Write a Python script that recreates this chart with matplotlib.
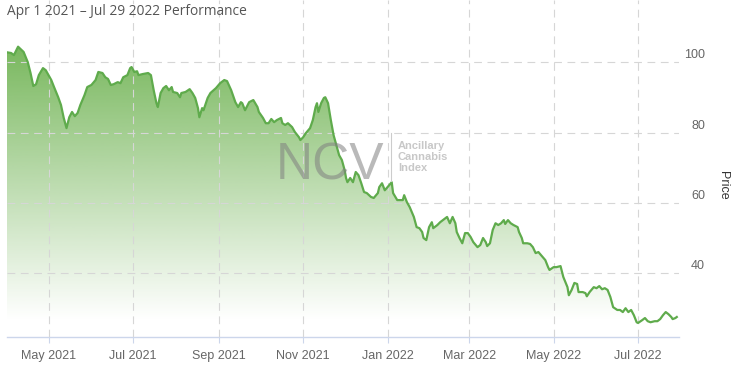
import matplotlib
matplotlib.use("Agg")
import matplotlib.pyplot as plt
import matplotlib.dates as mdates
import matplotlib.transforms as mtransforms
from matplotlib.lines import Line2D
import numpy as np
import pandas as pd

title_text = "Apr 1 2021 \u2013 Jul 29 2022 Performance"
y_label = "Price"
y_ticks = [40, 60, 80, 100]
watermark = "NCV"
watermark_sub = "Ancillary\nCannabis\nIndex"

dates = [
    "2021-04-01", "2021-04-04", "2021-04-06", "2021-04-09", "2021-04-13", "2021-04-16",
    "2021-04-18", "2021-04-20", "2021-04-22", "2021-04-24", "2021-04-27", "2021-04-29",
    "2021-05-03", "2021-05-05", "2021-05-08", "2021-05-10", "2021-05-12", "2021-05-14",
    "2021-05-16", "2021-05-18", "2021-05-20", "2021-05-22", "2021-05-24", "2021-05-27",
    "2021-05-29", "2021-06-01", "2021-06-04", "2021-06-06", "2021-06-09", "2021-06-11",
    "2021-06-13", "2021-06-15", "2021-06-17", "2021-06-20", "2021-06-22", "2021-06-24",
    "2021-06-27", "2021-06-29", "2021-06-30", "2021-07-02", "2021-07-04", "2021-07-05",
    "2021-07-08", "2021-07-12", "2021-07-14", "2021-07-16", "2021-07-18", "2021-07-19",
    "2021-07-21", "2021-07-23", "2021-07-25", "2021-07-27", "2021-07-29", "2021-07-30",
    "2021-08-02", "2021-08-04", "2021-08-05", "2021-08-08", "2021-08-11", "2021-08-13",
    "2021-08-15", "2021-08-17", "2021-08-18", "2021-08-20", "2021-08-21", "2021-08-24",
    "2021-08-26", "2021-08-30", "2021-09-02", "2021-09-05", "2021-09-07", "2021-09-10",
    "2021-09-13", "2021-09-15", "2021-09-17", "2021-09-18", "2021-09-20", "2021-09-22",
    "2021-09-23", "2021-09-26", "2021-09-29", "2021-09-30", "2021-10-03", "2021-10-05",
    "2021-10-07", "2021-10-09", "2021-10-11", "2021-10-13", "2021-10-16", "2021-10-17",
    "2021-10-19", "2021-10-21", "2021-10-24", "2021-10-26", "2021-10-29", "2021-10-30",
    "2021-11-01", "2021-11-03", "2021-11-06", "2021-11-08", "2021-11-10", "2021-11-11",
    "2021-11-12", "2021-11-14", "2021-11-16", "2021-11-17", "2021-11-19", "2021-11-21",
    "2021-11-23", "2021-11-26", "2021-11-27", "2021-11-29", "2021-12-01", "2021-12-02",
    "2021-12-03", "2021-12-05", "2021-12-07", "2021-12-08", "2021-12-09", "2021-12-11",
    "2021-12-13", "2021-12-15", "2021-12-17", "2021-12-20", "2021-12-22", "2021-12-25",
    "2021-12-26", "2021-12-28", "2021-12-30", "2022-01-01", "2022-01-04", "2022-01-05",
    "2022-01-08", "2022-01-12", "2022-01-13", "2022-01-15", "2022-01-17", "2022-01-20",
    "2022-01-22", "2022-01-24", "2022-01-26", "2022-01-27", "2022-01-29", "2022-01-31",
    "2022-02-02", "2022-02-03", "2022-02-06", "2022-02-08", "2022-02-12", "2022-02-13",
    "2022-02-15", "2022-02-17", "2022-02-19", "2022-02-20", "2022-02-22", "2022-02-24",
    "2022-02-26", "2022-02-28", "2022-03-02", "2022-03-04", "2022-03-07", "2022-03-09",
    "2022-03-11", "2022-03-13", "2022-03-14", "2022-03-16", "2022-03-18", "2022-03-20",
    "2022-03-22", "2022-03-24", "2022-03-26", "2022-03-27", "2022-03-29", "2022-03-31",
    "2022-04-02", "2022-04-05", "2022-04-06", "2022-04-08", "2022-04-09", "2022-04-12",
    "2022-04-14", "2022-04-16", "2022-04-18", "2022-04-20", "2022-04-23", "2022-04-25",
    "2022-04-27", "2022-04-28", "2022-05-01", "2022-05-03", "2022-05-06", "2022-05-08",
    "2022-05-11", "2022-05-12", "2022-05-14", "2022-05-16", "2022-05-18", "2022-05-19",
    "2022-05-22", "2022-05-24", "2022-05-25", "2022-05-27", "2022-05-30", "2022-06-01",
    "2022-06-03", "2022-06-05", "2022-06-07", "2022-06-09", "2022-06-11", "2022-06-13",
    "2022-06-16", "2022-06-18", "2022-06-20", "2022-06-22", "2022-06-24", "2022-06-26",
    "2022-06-28", "2022-06-30", "2022-07-01", "2022-07-04", "2022-07-06", "2022-07-08",
    "2022-07-10", "2022-07-13", "2022-07-15", "2022-07-17", "2022-07-19", "2022-07-21",
    "2022-07-23", "2022-07-25", "2022-07-26", "2022-07-28", "2022-07-29",
]

prices = [
    102.9, 102.7, 102.1, 104.5, 103.0, 100.1,
    97.0, 93.3, 93.8, 96.4, 98.4, 97.8,
    95.0, 93.0, 90.1, 87.9, 84.2, 81.3,
    84.4, 85.9, 84.7, 85.6, 87.9, 90.7,
    93.0, 93.6, 95.0, 97.3, 97.0, 95.8,
    95.3, 93.6, 93.8, 94.4, 94.1, 95.8,
    96.4, 98.4, 98.7, 97.3, 97.5, 96.4,
    96.7, 97.0, 96.4, 92.1, 88.4, 87.3,
    91.3, 92.7, 93.3, 92.1, 93.0, 91.6,
    91.3, 90.1, 91.3, 91.6, 92.4, 91.3,
    89.9, 87.0, 84.4, 87.0, 86.4, 89.9,
    91.3, 92.7, 94.1, 95.0, 94.7, 92.1,
    88.7, 87.3, 88.7, 88.4, 86.4, 87.9,
    88.7, 89.3, 87.3, 85.9, 84.2, 82.7,
    82.7, 83.9, 83.0, 83.6, 84.2, 82.7,
    82.2, 82.7, 81.6, 80.2, 78.7, 77.9,
    78.7, 79.9, 81.3, 83.6, 87.3, 88.4,
    85.9, 88.4, 89.9, 90.1, 88.4, 83.6,
    79.3, 75.0, 73.6, 72.2, 69.3, 67.1,
    65.9, 67.1, 65.9, 67.4, 68.8, 67.9,
    65.6, 63.1, 62.8, 61.7, 61.4, 62.8,
    64.5, 65.6, 63.6, 64.5, 65.9, 62.8,
    60.8, 60.8, 62.2, 60.2, 58.8, 56.0,
    53.1, 52.8, 51.7, 50.0, 49.4, 53.1,
    54.5, 52.8, 53.7, 54.5, 55.7, 56.0,
    54.2, 56.0, 54.2, 51.7, 50.0, 48.5,
    51.4, 51.4, 50.3, 48.8, 47.4, 48.0,
    50.0, 48.8, 47.7, 48.5, 52.3, 54.2,
    53.7, 54.2, 55.1, 54.0, 55.1, 54.2,
    53.7, 53.1, 51.7, 50.0, 48.5, 48.5,
    48.3, 47.4, 45.7, 46.0, 44.6, 43.7,
    41.7, 40.9, 41.7, 41.7, 42.0, 38.9,
    36.0, 33.7, 35.2, 37.2, 36.9, 34.6,
    34.6, 34.3, 33.4, 34.6, 36.0, 35.7,
    36.3, 35.4, 35.7, 35.2, 33.2, 30.3,
    29.5, 29.5, 28.9, 30.0, 28.9, 29.5,
    28.0, 26.0, 25.8, 26.6, 27.2, 26.3,
    26.0, 26.3, 26.3, 26.9, 28.0, 28.9,
    28.3, 27.5, 26.9, 27.2, 27.5,
]

W, H = 743, 368
fig = plt.figure(figsize=(W / 100, H / 100), dpi=100)
ax_left, ax_right, ax_bottom = 7, 679, 337
ax = fig.add_axes([ax_left / W, 1 - ax_bottom / H, (ax_right - ax_left) / W, ax_bottom / H])

x = mdates.date2num(pd.to_datetime(dates))
y = np.array(prices)

ylo, yhi = 21.8, 117.8
x0 = x[0]
x1 = mdates.date2num(pd.Timestamp("2022-07-30")) + 0.6
ax.set_xlim(x0, x1)
ax.set_ylim(ylo, yhi)

# area with vertical gradient
poly = ax.fill_between(x, y, ylo, facecolor="none", edgecolor="none")
n = 400
vals = np.linspace(ylo, yhi, n)
v_bottom, v_top = 26.6, 104.5
a = np.clip((vals - v_bottom) / (v_top - v_bottom), 0, 1) * 0.9
base = np.array(matplotlib.colors.to_rgb("#6ab04c"))
img = np.zeros((n, 1, 4))
img[:, 0, :3] = base
img[:, 0, 3] = a
im = ax.imshow(img, extent=[x0, x1, ylo, yhi], origin="lower", aspect="auto",
               interpolation="bilinear", zorder=1)
im.set_clip_path(poly.get_paths()[0], ax.transData)

ax.plot(x, y, color="#5fab4c", lw=1.6, zorder=4, solid_joinstyle="round")

# grid / axes
ax.set_yticks(y_ticks)
ax.xaxis.set_major_locator(mdates.MonthLocator(bymonth=[1, 3, 5, 7, 9, 11]))
ax.xaxis.set_major_formatter(mdates.DateFormatter("%b %Y"))
ax.grid(True, color="#d6d6d6", linestyle=(0, (7, 5)), lw=0.8, zorder=2.5)
ax.set_axisbelow(False)
for s in ["top", "left", "right"]:
    ax.spines[s].set_visible(False)
ax.spines["bottom"].set_color("#ccd6eb")
ax.spines["bottom"].set_linewidth(1.0)
ax.tick_params(axis="y", left=False, right=False, labelleft=False, labelright=False)
ax.tick_params(axis="x", length=4.3, color="#ccd6eb", width=0.8, pad=5,
               labelsize=9, labelcolor="#666666")
for lab in ax.get_xticklabels():
    lab.set_fontfamily("Liberation Sans")
ax.patch.set_alpha(0)

# y labels on the right, above gridlines
trans = mtransforms.blended_transform_factory(fig.transFigure, ax.transData)
trans = mtransforms.offset_copy(trans, fig=fig, x=0, y=7, units="dots")
for v in y_ticks:
    ax.text(705 / W, v, str(v), transform=trans, ha="right", va="center",
            fontsize=9, color="#666666", family="Liberation Sans", clip_on=False)

fig.text(723 / W, 1 - 185 / H, y_label, rotation=270, ha="center", va="center",
         fontsize=9, color="#333333", family="Liberation Sans")

# title
fig.text(7 / W, 1 - 15 / H, title_text, ha="left", va="baseline",
         fontsize=9.9, color="#555555", family="Open Sans")

# watermark
fig.text(330 / W, 1 - 180 / H, watermark, ha="center", va="baseline",
         fontsize=37, color="#808080", alpha=0.55, family="Liberation Sans", zorder=3)
fig.add_artist(Line2D([391 / W, 391 / W], [1 - 133 / H, 1 - 181 / H],
                      color="#cccccc", lw=0.8))
fig.text(398 / W, 1 - 141 / H, watermark_sub, ha="left", va="top",
         fontsize=8, fontweight="bold", color="#c8c8c8", family="Liberation Sans",
         linespacing=1.15)

fig.savefig("out.png", dpi=100)
